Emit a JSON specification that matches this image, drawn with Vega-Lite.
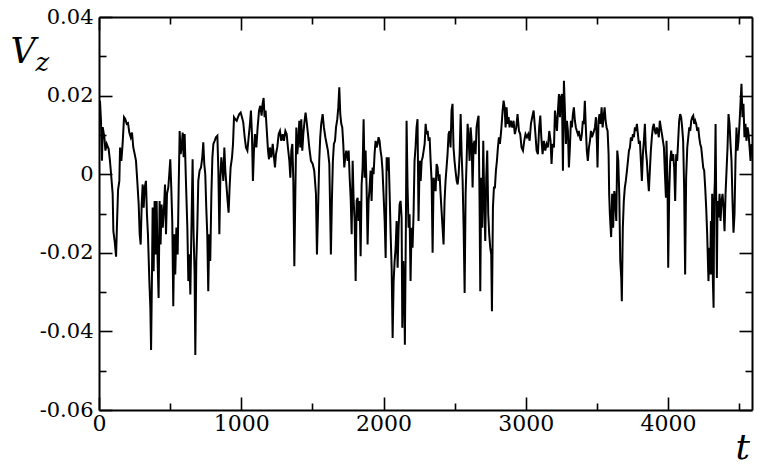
{
  "$schema": "https://vega.github.io/schema/vega-lite/v6.json",
  "width": 653,
  "height": 393,
  "autosize": {"type": "none"},
  "padding": {"left": 99, "top": 17, "right": 10, "bottom": 57},
  "background": "white",
  "config": {
    "font": "DejaVu Serif",
    "view": {"stroke": null},
    "axis": {
      "grid": false,
      "domainColor": "black",
      "domainWidth": 2,
      "tickColor": "black",
      "tickWidth": 1.6,
      "labelColor": "black",
      "labelFont": "DejaVu Serif",
      "titleFont": "DejaVu Serif",
      "titleColor": "black",
      "titleFontWeight": "normal",
      "titleFontStyle": "italic"
    }
  },
  "data": {"values": [
    {"t":0,"v":0.0165},{"t":7,"v":0.0187},{"t":14,"v":0.0136},{"t":21,"v":0.0034},{"t":26,"v":0.012},{"t":38,"v":0.0094},{"t":45,"v":0.006},{"t":54,"v":0.0077},{"t":68,"v":0.0064},{"t":77,"v":0.0034},{"t":87,"v":-0.0009},{"t":96,"v":-0.005},{"t":101,"v":-0.0145},{"t":110,"v":-0.017},{"t":120,"v":-0.021},{"t":127,"v":-0.012},{"t":134,"v":-0.004},{"t":143,"v":-0.0017},{"t":148,"v":0.0068},{"t":157,"v":0.0034},{"t":166,"v":0.0077},{"t":176,"v":0.0145},{"t":185,"v":0.014},{"t":195,"v":0.0128},{"t":204,"v":0.013},{"t":213,"v":0.0106},{"t":223,"v":0.0094},{"t":232,"v":0.0106},{"t":241,"v":0.0068},{"t":251,"v":0.0051},{"t":260,"v":0.0034},{"t":269,"v":-0.0017},{"t":279,"v":-0.0077},{"t":286,"v":-0.0153},{"t":293,"v":-0.0179},{"t":300,"v":-0.0077},{"t":307,"v":-0.0026},{"t":314,"v":-0.0085},{"t":321,"v":-0.0034},{"t":330,"v":-0.0017},{"t":337,"v":-0.0102},{"t":344,"v":-0.0153},{"t":354,"v":-0.0272},{"t":361,"v":-0.034},{"t":366,"v":-0.0447},{"t":373,"v":-0.0238},{"t":377,"v":-0.0085},{"t":384,"v":-0.0247},{"t":391,"v":-0.0068},{"t":398,"v":-0.0204},{"t":405,"v":-0.0068},{"t":412,"v":-0.0221},{"t":419,"v":-0.0315},{"t":426,"v":-0.0068},{"t":433,"v":-0.0179},{"t":440,"v":-0.0077},{"t":448,"v":-0.0136},{"t":457,"v":-0.0085},{"t":464,"v":-0.0026},{"t":471,"v":-0.0153},{"t":478,"v":-0.005},{"t":487,"v":-0.0034},{"t":494,"v":0},{"t":501,"v":0.0038},{"t":508,"v":-0.0034},{"t":515,"v":-0.0119},{"t":522,"v":-0.0336},{"t":529,"v":-0.0153},{"t":536,"v":-0.0255},{"t":544,"v":-0.0136},{"t":553,"v":-0.0204},{"t":560,"v":-0.0034},{"t":567,"v":0.011},{"t":574,"v":0.0051},{"t":581,"v":0.0068},{"t":588,"v":0.0106},{"t":595,"v":0.0043},{"t":602,"v":0.0102},{"t":611,"v":-0.0017},{"t":621,"v":-0.0136},{"t":628,"v":-0.0272},{"t":635,"v":-0.0204},{"t":642,"v":-0.0306},{"t":649,"v":-0.0153},{"t":658,"v":0.0038},{"t":665,"v":-0.0153},{"t":672,"v":-0.0255},{"t":677,"v":-0.046},{"t":684,"v":-0.0221},{"t":691,"v":-0.0136},{"t":698,"v":-0.0017},{"t":707,"v":0.0009},{"t":717,"v":0.0017},{"t":726,"v":0.0043},{"t":733,"v":0.0081},{"t":740,"v":0.0026},{"t":747,"v":0},{"t":754,"v":-0.0085},{"t":761,"v":-0.0153},{"t":768,"v":-0.0298},{"t":775,"v":-0.0153},{"t":782,"v":-0.0221},{"t":790,"v":-0.005},{"t":797,"v":0.0043},{"t":804,"v":0.0077},{"t":813,"v":0.0085},{"t":822,"v":0.0094},{"t":832,"v":0.0098},{"t":839,"v":0.0009},{"t":846,"v":-0.0153},{"t":853,"v":-0.0009},{"t":860,"v":0.0043},{"t":867,"v":0.0017},{"t":874,"v":-0.0017},{"t":881,"v":0.0068},{"t":888,"v":0.0009},{"t":897,"v":-0.0034},{"t":904,"v":-0.0068},{"t":911,"v":-0.0098},{"t":918,"v":-0.0034},{"t":925,"v":0.0017},{"t":935,"v":0.0043},{"t":942,"v":0.0077},{"t":949,"v":0.0145},{"t":958,"v":0.014},{"t":968,"v":0.0136},{"t":977,"v":0.0145},{"t":986,"v":0.0153},{"t":996,"v":0.0157},{"t":1005,"v":0.0145},{"t":1014,"v":0.0132},{"t":1024,"v":0.0094},{"t":1033,"v":0.0068},{"t":1043,"v":0.006},{"t":1052,"v":0.0094},{"t":1061,"v":0.0128},{"t":1068,"v":0.0162},{"t":1075,"v":0.0102},{"t":1082,"v":-0.0017},{"t":1089,"v":0.006},{"t":1096,"v":0.0102},{"t":1106,"v":0.0068},{"t":1115,"v":0.0119},{"t":1125,"v":0.0162},{"t":1134,"v":0.0174},{"t":1143,"v":0.0149},{"t":1150,"v":0.0179},{"t":1157,"v":0.0194},{"t":1164,"v":0.0145},{"t":1171,"v":0.0162},{"t":1178,"v":0.0119},{"t":1188,"v":0.006},{"t":1195,"v":0.0038},{"t":1202,"v":0.0068},{"t":1211,"v":0.0043},{"t":1221,"v":0.0077},{"t":1230,"v":0.0043},{"t":1237,"v":0.0017},{"t":1244,"v":0.0051},{"t":1253,"v":0.0068},{"t":1263,"v":0.0102},{"t":1272,"v":0.011},{"t":1281,"v":0.0085},{"t":1291,"v":0.0102},{"t":1300,"v":0.0085},{"t":1310,"v":0.011},{"t":1319,"v":0.0102},{"t":1328,"v":0.0068},{"t":1338,"v":0.0034},{"t":1345,"v":-0.0009},{"t":1352,"v":0.006},{"t":1359,"v":0.0077},{"t":1366,"v":-0.0017},{"t":1373,"v":-0.0234},{"t":1380,"v":-0.005},{"t":1387,"v":0.0119},{"t":1394,"v":0.0051},{"t":1401,"v":0.0085},{"t":1408,"v":0.0136},{"t":1415,"v":0.0068},{"t":1422,"v":0.014},{"t":1429,"v":0.006},{"t":1436,"v":0.0102},{"t":1445,"v":0.0136},{"t":1452,"v":0.0157},{"t":1459,"v":0.0136},{"t":1469,"v":0.0102},{"t":1478,"v":0.0068},{"t":1490,"v":0.0034},{"t":1502,"v":0.0026},{"t":1513,"v":0.0009},{"t":1525,"v":-0.005},{"t":1532,"v":-0.0204},{"t":1539,"v":-0.0102},{"t":1548,"v":0.0034},{"t":1555,"v":0.0094},{"t":1562,"v":0.0128},{"t":1572,"v":0.0153},{"t":1581,"v":0.0119},{"t":1591,"v":0.0094},{"t":1600,"v":0.0077},{"t":1609,"v":0.006},{"t":1619,"v":0.0026},{"t":1626,"v":-0.0119},{"t":1630,"v":-0.0204},{"t":1637,"v":-0.0068},{"t":1644,"v":0.0034},{"t":1651,"v":0.0077},{"t":1659,"v":0.0085},{"t":1666,"v":0.0119},{"t":1675,"v":0.014},{"t":1682,"v":0.017},{"t":1689,"v":0.0221},{"t":1696,"v":0.0153},{"t":1703,"v":0.0128},{"t":1710,"v":0.0119},{"t":1717,"v":0.0077},{"t":1724,"v":0.0017},{"t":1731,"v":0.0043},{"t":1738,"v":0.006},{"t":1748,"v":0.0034},{"t":1755,"v":0.006},{"t":1762,"v":-0.0009},{"t":1769,"v":-0.006},{"t":1776,"v":-0.0153},{"t":1783,"v":0.0034},{"t":1790,"v":-0.0068},{"t":1797,"v":-0.0119},{"t":1804,"v":-0.0272},{"t":1811,"v":-0.0068},{"t":1818,"v":-0.006},{"t":1825,"v":-0.0119},{"t":1832,"v":-0.0068},{"t":1839,"v":-0.0209},{"t":1846,"v":-0.0026},{"t":1853,"v":0.0017},{"t":1860,"v":0.014},{"t":1867,"v":-0.0009},{"t":1874,"v":0.006},{"t":1881,"v":-0.0034},{"t":1888,"v":-0.0179},{"t":1895,"v":-0.0068},{"t":1902,"v":-0.0034},{"t":1909,"v":0.0009},{"t":1916,"v":-0.0068},{"t":1923,"v":0.0017},{"t":1930,"v":0},{"t":1937,"v":0.0051},{"t":1944,"v":0.0085},{"t":1951,"v":0.0068},{"t":1958,"v":0.0077},{"t":1965,"v":0.0094},{"t":1972,"v":0.0085},{"t":1979,"v":0.006},{"t":1986,"v":0.0043},{"t":1993,"v":0.0009},{"t":2000,"v":-0.005},{"t":2008,"v":-0.0119},{"t":2015,"v":-0.0213},{"t":2022,"v":0.0043},{"t":2029,"v":0.0009},{"t":2036,"v":0.0043},{"t":2043,"v":-0.005},{"t":2050,"v":-0.0153},{"t":2057,"v":-0.0238},{"t":2064,"v":-0.0417},{"t":2071,"v":-0.0272},{"t":2078,"v":-0.0221},{"t":2085,"v":-0.0187},{"t":2092,"v":-0.0119},{"t":2099,"v":-0.0238},{"t":2106,"v":-0.0136},{"t":2113,"v":-0.0077},{"t":2120,"v":-0.0068},{"t":2127,"v":-0.011},{"t":2132,"v":-0.0391},{"t":2139,"v":-0.0221},{"t":2146,"v":-0.0306},{"t":2150,"v":-0.0434},{"t":2157,"v":-0.0136},{"t":2162,"v":0.0136},{"t":2169,"v":-0.0034},{"t":2176,"v":-0.0136},{"t":2183,"v":-0.0102},{"t":2190,"v":-0.0272},{"t":2197,"v":-0.0136},{"t":2204,"v":-0.0187},{"t":2211,"v":-0.0102},{"t":2218,"v":0.0034},{"t":2225,"v":0.0068},{"t":2232,"v":0.0119},{"t":2239,"v":0.014},{"t":2246,"v":-0.0119},{"t":2254,"v":0.0034},{"t":2261,"v":-0.0017},{"t":2268,"v":0.0034},{"t":2275,"v":0.0043},{"t":2282,"v":0.006},{"t":2289,"v":0.0077},{"t":2296,"v":0.0128},{"t":2303,"v":0.0102},{"t":2310,"v":0.011},{"t":2317,"v":0.0085},{"t":2324,"v":0.0094},{"t":2331,"v":0.0034},{"t":2338,"v":-0.0017},{"t":2345,"v":-0.02},{"t":2352,"v":-0.0009},{"t":2359,"v":-0.0026},{"t":2366,"v":-0.0043},{"t":2373,"v":0.0026},{"t":2380,"v":0.0017},{"t":2387,"v":-0.0017},{"t":2394,"v":0},{"t":2401,"v":-0.005},{"t":2408,"v":-0.0094},{"t":2415,"v":-0.0136},{"t":2422,"v":-0.0179},{"t":2429,"v":-0.0068},{"t":2436,"v":-0.0017},{"t":2443,"v":0.0017},{"t":2450,"v":0.0051},{"t":2457,"v":0.0102},{"t":2464,"v":0.011},{"t":2471,"v":0.0068},{"t":2478,"v":0.0162},{"t":2485,"v":0.0179},{"t":2492,"v":0.0068},{"t":2499,"v":0.0034},{"t":2506,"v":0.0009},{"t":2514,"v":-0.0017},{"t":2521,"v":-0.0026},{"t":2528,"v":0},{"t":2535,"v":0.0051},{"t":2542,"v":0.0153},{"t":2549,"v":0.0051},{"t":2556,"v":-0.0017},{"t":2563,"v":-0.0136},{"t":2570,"v":-0.0302},{"t":2577,"v":-0.005},{"t":2584,"v":0.0034},{"t":2591,"v":0.0128},{"t":2598,"v":0.0094},{"t":2605,"v":0.0034},{"t":2612,"v":0.0119},{"t":2619,"v":0.0085},{"t":2626,"v":-0.0034},{"t":2633,"v":0.0077},{"t":2640,"v":0.0085},{"t":2647,"v":0.0051},{"t":2654,"v":0.0119},{"t":2661,"v":0.0136},{"t":2668,"v":0.0149},{"t":2675,"v":-0.0068},{"t":2680,"v":-0.0298},{"t":2687,"v":-0.0009},{"t":2694,"v":-0.0136},{"t":2701,"v":0.0085},{"t":2708,"v":-0.0068},{"t":2715,"v":-0.017},{"t":2722,"v":-0.0009},{"t":2729,"v":0.006},{"t":2736,"v":-0.0102},{"t":2743,"v":-0.0153},{"t":2750,"v":-0.0187},{"t":2757,"v":-0.0204},{"t":2762,"v":-0.0349},{"t":2769,"v":-0.0085},{"t":2776,"v":-0.0034},{"t":2783,"v":-0.0034},{"t":2790,"v":0.0009},{"t":2797,"v":0.0034},{"t":2804,"v":0.0068},{"t":2811,"v":0.0094},{"t":2818,"v":0.0077},{"t":2827,"v":0.011},{"t":2837,"v":0.0162},{"t":2844,"v":0.0187},{"t":2851,"v":0.017},{"t":2858,"v":0.0119},{"t":2865,"v":0.017},{"t":2872,"v":0.0128},{"t":2879,"v":0.0145},{"t":2886,"v":0.0119},{"t":2895,"v":0.0136},{"t":2905,"v":0.0119},{"t":2914,"v":0.0136},{"t":2923,"v":0.0102},{"t":2933,"v":0.0119},{"t":2942,"v":0.0153},{"t":2952,"v":0.011},{"t":2961,"v":0.0102},{"t":2970,"v":0.0068},{"t":2980,"v":0.006},{"t":2989,"v":0.0085},{"t":2998,"v":0.0102},{"t":3008,"v":0.0094},{"t":3017,"v":0.0102},{"t":3027,"v":0.0085},{"t":3036,"v":0.0128},{"t":3045,"v":0.0145},{"t":3055,"v":0.0162},{"t":3066,"v":0.011},{"t":3076,"v":0.006},{"t":3085,"v":0.0051},{"t":3094,"v":0.0119},{"t":3102,"v":0.0149},{"t":3109,"v":0.0094},{"t":3118,"v":0.0051},{"t":3127,"v":0.0085},{"t":3137,"v":0.006},{"t":3146,"v":0.0077},{"t":3155,"v":0.0068},{"t":3165,"v":0.011},{"t":3174,"v":0.0085},{"t":3181,"v":0.0026},{"t":3188,"v":0.0077},{"t":3198,"v":0.0068},{"t":3205,"v":0.0162},{"t":3212,"v":0.0136},{"t":3219,"v":0.011},{"t":3226,"v":0.0162},{"t":3233,"v":0.0204},{"t":3240,"v":0.0145},{"t":3247,"v":0.0196},{"t":3254,"v":0.0204},{"t":3261,"v":0.0009},{"t":3268,"v":0.0238},{"t":3275,"v":0.0162},{"t":3282,"v":0.0077},{"t":3289,"v":0.0136},{"t":3296,"v":0.011},{"t":3303,"v":0.0017},{"t":3310,"v":0.0068},{"t":3317,"v":0.0136},{"t":3324,"v":0.0119},{"t":3331,"v":0.0153},{"t":3338,"v":0.017},{"t":3345,"v":0.0136},{"t":3352,"v":0.0119},{"t":3359,"v":0.011},{"t":3366,"v":0.0102},{"t":3373,"v":0.011},{"t":3380,"v":0.0094},{"t":3387,"v":0.0085},{"t":3394,"v":0.0102},{"t":3401,"v":0.0136},{"t":3408,"v":0.0128},{"t":3415,"v":0.0187},{"t":3422,"v":0.0119},{"t":3429,"v":0.006},{"t":3436,"v":0.0034},{"t":3444,"v":0.0068},{"t":3451,"v":0.0085},{"t":3458,"v":0.011},{"t":3465,"v":0.0094},{"t":3472,"v":0.0102},{"t":3479,"v":0.011},{"t":3486,"v":0.0119},{"t":3493,"v":0.0145},{"t":3500,"v":0.0077},{"t":3504,"v":0.0017},{"t":3511,"v":0.0136},{"t":3518,"v":0.0153},{"t":3525,"v":0.0128},{"t":3533,"v":0.017},{"t":3540,"v":0.0119},{"t":3547,"v":0.0145},{"t":3554,"v":0.017},{"t":3561,"v":0.0136},{"t":3568,"v":0.0119},{"t":3575,"v":0.011},{"t":3582,"v":0.0051},{"t":3586,"v":-0.005},{"t":3591,"v":-0.0102},{"t":3596,"v":-0.0136},{"t":3600,"v":-0.016},{"t":3607,"v":-0.005},{"t":3614,"v":-0.0136},{"t":3622,"v":-0.0043},{"t":3629,"v":-0.0068},{"t":3636,"v":-0.0119},{"t":3643,"v":0.006},{"t":3650,"v":0.0034},{"t":3657,"v":-0.005},{"t":3664,"v":-0.0221},{"t":3671,"v":-0.0264},{"t":3675,"v":-0.0323},{"t":3682,"v":-0.0136},{"t":3689,"v":-0.0068},{"t":3696,"v":-0.0034},{"t":3703,"v":-0.0017},{"t":3711,"v":0.0009},{"t":3718,"v":0.0034},{"t":3725,"v":0.006},{"t":3732,"v":0.0068},{"t":3739,"v":0.0094},{"t":3746,"v":0.0085},{"t":3753,"v":0.0102},{"t":3760,"v":0.0094},{"t":3767,"v":0.0119},{"t":3774,"v":0.011},{"t":3781,"v":0.0128},{"t":3788,"v":0.0102},{"t":3795,"v":0.0077},{"t":3802,"v":0.0085},{"t":3809,"v":0.0034},{"t":3816,"v":-0.0017},{"t":3823,"v":0.0051},{"t":3830,"v":0.0085},{"t":3837,"v":0.0128},{"t":3844,"v":0.006},{"t":3851,"v":0.0034},{"t":3858,"v":-0.0009},{"t":3865,"v":-0.0043},{"t":3872,"v":0.0009},{"t":3879,"v":0.006},{"t":3886,"v":0.0094},{"t":3893,"v":0.0119},{"t":3900,"v":0.0128},{"t":3907,"v":0.011},{"t":3914,"v":0.0102},{"t":3921,"v":0.0119},{"t":3928,"v":0.011},{"t":3935,"v":0.0094},{"t":3942,"v":0.0136},{"t":3949,"v":0.0119},{"t":3957,"v":0.0102},{"t":3964,"v":0.0085},{"t":3971,"v":0.0068},{"t":3978,"v":0},{"t":3985,"v":-0.006},{"t":3989,"v":0.0085},{"t":3996,"v":-0.0017},{"t":4001,"v":-0.0238},{"t":4008,"v":-0.005},{"t":4015,"v":0.0034},{"t":4022,"v":0.006},{"t":4029,"v":0.0034},{"t":4036,"v":0.0051},{"t":4043,"v":0.0017},{"t":4050,"v":-0.0068},{"t":4057,"v":0.0051},{"t":4064,"v":0.0034},{"t":4071,"v":0.0085},{"t":4078,"v":0.0136},{"t":4085,"v":0.0153},{"t":4092,"v":0.0145},{"t":4099,"v":0.0119},{"t":4106,"v":0.0085},{"t":4113,"v":-0.0034},{"t":4120,"v":-0.0255},{"t":4127,"v":-0.0009},{"t":4135,"v":0.0068},{"t":4142,"v":0.0094},{"t":4149,"v":0.0119},{"t":4156,"v":0.011},{"t":4163,"v":0.0136},{"t":4170,"v":0.0145},{"t":4177,"v":0.0149},{"t":4184,"v":0.0128},{"t":4191,"v":0.0136},{"t":4198,"v":0.0128},{"t":4205,"v":0.011},{"t":4212,"v":0.0119},{"t":4219,"v":0.0094},{"t":4226,"v":0.0077},{"t":4233,"v":0.0068},{"t":4240,"v":0.0043},{"t":4247,"v":0.0017},{"t":4254,"v":0.0009},{"t":4261,"v":-0.0034},{"t":4268,"v":-0.0085},{"t":4275,"v":-0.0153},{"t":4280,"v":-0.0221},{"t":4284,"v":-0.0272},{"t":4291,"v":-0.0187},{"t":4296,"v":-0.0255},{"t":4301,"v":-0.0119},{"t":4306,"v":-0.0255},{"t":4310,"v":-0.005},{"t":4315,"v":-0.0272},{"t":4320,"v":-0.034},{"t":4324,"v":-0.0068},{"t":4329,"v":-0.0017},{"t":4334,"v":0.0128},{"t":4338,"v":-0.005},{"t":4343,"v":-0.0264},{"t":4348,"v":-0.0068},{"t":4355,"v":-0.011},{"t":4362,"v":-0.005},{"t":4369,"v":-0.0119},{"t":4376,"v":-0.0068},{"t":4383,"v":-0.005},{"t":4390,"v":-0.0085},{"t":4397,"v":-0.0145},{"t":4404,"v":-0.005},{"t":4411,"v":0.0009},{"t":4418,"v":0.0068},{"t":4425,"v":0.0153},{"t":4432,"v":0.0128},{"t":4439,"v":0.0077},{"t":4446,"v":0.0034},{"t":4453,"v":-0.0068},{"t":4460,"v":-0.0149},{"t":4467,"v":-0.0102},{"t":4474,"v":0.0034},{"t":4481,"v":0.0119},{"t":4488,"v":0.006},{"t":4495,"v":0.0085},{"t":4502,"v":0.0128},{"t":4509,"v":0.0179},{"t":4516,"v":0.023},{"t":4523,"v":0.0145},{"t":4530,"v":0.0179},{"t":4537,"v":0.0094},{"t":4544,"v":0.0128},{"t":4551,"v":0.0085},{"t":4559,"v":0.0119},{"t":4566,"v":0.0102},{"t":4573,"v":0.0068},{"t":4580,"v":0.0034},{"t":4587,"v":0.0077}
  ]},
  "layer": [
    {
      "mark": {"type": "line", "color": "black", "strokeWidth": 2, "clip": true},
      "encoding": {
        "x": {
          "field": "t", "type": "quantitative",
          "scale": {"domain": [0, 4590], "nice": false, "zero": false},
          "axis": {
            "orient": "bottom",
            "values": [0, 500, 1000, 1500, 2000, 2500, 3000, 3500, 4000, 4500],
            "labelExpr": "datum.value % 1000 === 0 ? format(datum.value, 'd') : ''",
            "tickSize": {"condition": {"test": "datum.value % 1000 === 0", "value": -13}, "value": -7},
            "labelPadding": 16,
            "labelFontSize": 22,
            "labelFlush": false,
            "labelOverlap": false,
            "labelBaseline": "top",
            "title": "t",
            "titleFontSize": 36,
            "titleAngle": 0,
            "titleAlign": "left",
            "titleBaseline": "alphabetic",
            "titleX": 636,
            "titleY": 48
          }
        },
        "y": {
          "field": "v", "type": "quantitative",
          "scale": {"domain": [-0.06, 0.04], "nice": false, "zero": false},
          "axis": {
            "orient": "left",
            "values": [-0.06, -0.05, -0.04, -0.03, -0.02, -0.01, 0, 0.01, 0.02, 0.03, 0.04],
            "labelExpr": "round(datum.value*100) % 2 !== 0 ? '' : (round(datum.value*100) === 0 ? '0' : (round(datum.value*100) < 0 ? '-' : '') + '0.0' + abs(round(datum.value*100)))",
            "tickSize": {"condition": {"test": "round(datum.value*100) % 2 === 0", "value": -13}, "value": -7},
            "labelPadding": 19,
            "labelFontSize": 21,
            "labelFlush": false,
            "labelOverlap": false,
            "title": "V",
            "titleFontSize": 35,
            "titleAngle": 0,
            "titleAlign": "left",
            "titleBaseline": "alphabetic",
            "titleX": -89,
            "titleY": 45
          }
        }
      }
    },
    {
      "mark": {"type": "line", "strokeOpacity": 0},
      "encoding": {
        "x": {
          "field": "t", "type": "quantitative",
          "axis": {
            "orient": "top",
            "values": [0, 500, 1000, 1500, 2000, 2500, 3000, 3500, 4000, 4500],
            "labels": false,
            "tickSize": {"condition": {"test": "datum.value % 1000 === 0", "value": -13}, "value": -7},
            "title": "z",
            "titleFontSize": 26,
            "titleAngle": 0,
            "titleAlign": "left",
            "titleBaseline": "alphabetic",
            "titleX": -64,
            "titleY": 53
          }
        },
        "y": {
          "field": "v", "type": "quantitative",
          "axis": {
            "orient": "right",
            "values": [-0.06, -0.05, -0.04, -0.03, -0.02, -0.01, 0, 0.01, 0.02, 0.03, 0.04],
            "labels": false,
            "tickSize": {"condition": {"test": "round(datum.value*100) % 2 === 0", "value": -13}, "value": -7},
            "title": null
          }
        }
      }
    }
  ],
  "resolve": {"axis": {"x": "independent", "y": "independent"}}
}
